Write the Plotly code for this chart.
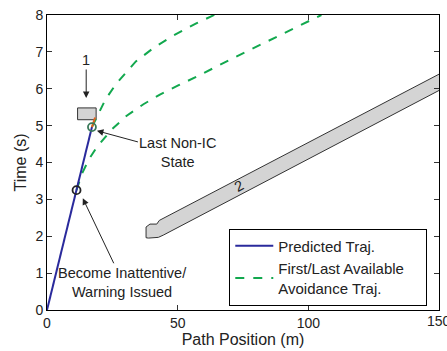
import plotly.graph_objects as go

# Predicted trajectory (path position m, time s)
pred_x = [0.0, 17.2]
pred_t = [0.0, 4.96]
# Remaining piece up to obstacle 1 (orange)
tail_x = [17.2, 18.4]
tail_t = [4.96, 5.22]

# Avoidance trajectories
first_x = [11.3, 12.4, 13.4, 16.0, 19.1, 24.8, 30.5, 36.9, 43.2, 50.2, 57.3, 71.2, 84.0, 96.7, 105.0]
first_t = [3.25, 3.50, 3.70, 4.08, 4.42, 4.90, 5.27, 5.58, 5.84, 6.09, 6.33, 6.83, 7.28, 7.71, 8.0]
last_x = [17.2, 18.9, 20.3, 22.3, 26.5, 34.0, 41.0, 48.3, 57.3, 65.5]
last_t = [4.96, 5.21, 5.42, 5.70, 6.14, 6.74, 7.12, 7.44, 7.78, 8.05]

# Obstacle 1 (rectangle)
obs1_x = [11.7, 18.8, 18.8, 11.7, 11.7]
obs1_t = [5.16, 5.16, 5.48, 5.48, 5.16]

# Obstacle 2 (band)
obs2_x = [37.9, 38.8, 42.6, 44.5, 155.0, 155.0, 43.0, 42.0, 39.4, 37.9, 37.9]
obs2_t = [1.96, 1.95, 1.97, 2.03, 6.14, 6.58, 2.43, 2.33, 2.33, 2.25, 1.96]

# Key states
warn_pt = (11.3, 3.25)
nonic_pt = (17.2, 4.96)

# Axis ticks
x_ticks = [0, 50, 100, 150]
y_ticks = [0, 1, 2, 3, 4, 5, 6, 7, 8]

FONT = "Liberation Sans, Arial, Helvetica, sans-serif"
BLUE = "#2a2a9c"
GREEN = "#12a84e"
NB = "&nbsp;"

fig = go.Figure()
fig.add_trace(go.Scatter(x=obs2_x, y=obs2_t, mode="lines", fill="toself",
                         fillcolor="#d4d4d4", line=dict(color="#333333", width=1),
                         showlegend=False, hoverinfo="skip"))
fig.add_trace(go.Scatter(x=obs1_x, y=obs1_t, mode="lines", fill="toself",
                         fillcolor="#d4d4d4", line=dict(color="#333333", width=1),
                         showlegend=False, hoverinfo="skip"))
fig.add_trace(go.Scatter(x=first_x, y=first_t, mode="lines",
                         line=dict(color=GREEN, width=2, dash="dash"),
                         name="First/Last Available" + NB * 4 + "<br>Avoidance Traj."))
fig.add_trace(go.Scatter(x=last_x, y=last_t, mode="lines",
                         line=dict(color=GREEN, width=2, dash="dash"),
                         showlegend=False))
fig.add_trace(go.Scatter(x=pred_x, y=pred_t, mode="lines",
                         line=dict(color=BLUE, width=2), name="Predicted Traj."))
fig.add_trace(go.Scatter(x=tail_x, y=tail_t, mode="lines",
                         line=dict(color="#e0601c", width=2), showlegend=False))
fig.add_trace(go.Scatter(x=[warn_pt[0]], y=[warn_pt[1]], mode="markers",
                         marker=dict(symbol="circle-open", size=8, color="#222222",
                                     line=dict(width=1.8)), showlegend=False))
fig.add_trace(go.Scatter(x=[nonic_pt[0]], y=[nonic_pt[1]], mode="markers",
                         marker=dict(symbol="circle-open", size=8, color="#3a7a5a",
                                     line=dict(width=1.8)), showlegend=False))

ann_font = dict(family=FONT, size=14.5, color="#222222")
fig.add_annotation(x=15.0, y=5.75, text="1", showarrow=True, ax=0, ay=-38,
                   arrowhead=2, arrowsize=1.3, arrowwidth=1, arrowcolor="#222222",
                   font=ann_font)
fig.add_annotation(x=19.1, y=4.86, text="Last Non-IC<br>State", showarrow=True,
                   ax=81, ay=22, arrowhead=2, arrowsize=1.3, arrowwidth=1,
                   arrowcolor="#222222", font=ann_font)
fig.add_annotation(x=13.7, y=3.03, text="Become Inattentive/<br>Warning Issued",
                   showarrow=True, ax=40, ay=84, arrowhead=2, arrowsize=1.3,
                   arrowwidth=1, arrowcolor="#222222", font=ann_font)
fig.add_annotation(x=73.5, y=3.36, text="2", showarrow=False, textangle=-28,
                   font=ann_font)
# last x tick label (partly beyond the page edge, as in the original)
fig.add_annotation(x=x_ticks[-1], xref="x", y=0, yref="paper", yanchor="top",
                   yshift=-1, text=str(x_ticks[-1]), showarrow=False,
                   font=dict(family=FONT, size=14, color="#222222"))

axis_common = dict(showline=True, linecolor="black", linewidth=1, mirror="ticks",
                   ticks="inside", ticklen=5, tickcolor="#333333", showgrid=False,
                   zeroline=False, tickfont=dict(family=FONT, size=14, color="#222222"))
fig.update_xaxes(range=[0, 150], tickvals=x_ticks,
                 title=dict(text="Path Position (m)", font=dict(family=FONT, size=16, color="#222222"),
                            standoff=2),
                 **axis_common)
fig.update_yaxes(range=[0, 8], tickvals=y_ticks,
                 title=dict(text="Time (s)", font=dict(family=FONT, size=16, color="#222222"),
                            standoff=4),
                 **axis_common)

fig.update_layout(
    width=447, height=351,
    margin=dict(l=47, r=7, t=10, b=39),
    plot_bgcolor="white", paper_bgcolor="white",
    font=dict(family=FONT, size=14, color="#222222"),
    legend=dict(x=0.465, y=0.276, xanchor="left", yanchor="top",
                bordercolor="black", borderwidth=1, bgcolor="white",
                font=dict(family=FONT, size=15, color="#222222"),
                traceorder="reversed", tracegroupgap=0, itemwidth=38),
    showlegend=True,
)

fig.write_html("out.html")
